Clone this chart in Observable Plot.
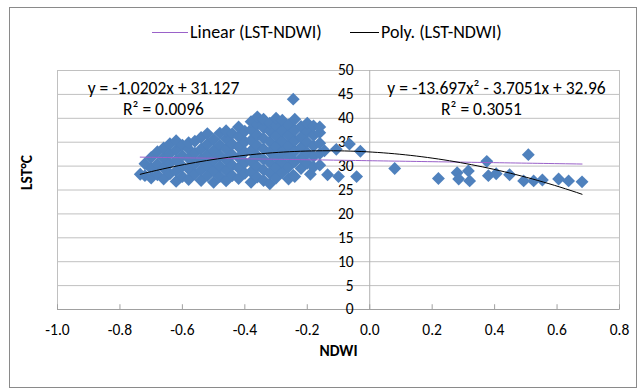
<!DOCTYPE html>
<html><head><meta charset="utf-8">
<script src="https://cdn.jsdelivr.net/npm/d3@7"></script>
<script src="https://cdn.jsdelivr.net/npm/@observablehq/plot@0.6"></script>
<style>
body{margin:0;background:#fff;font-family:Carlito,Calibri,Lato,sans-serif;}
#wrap{position:relative;width:638px;height:389px;overflow:hidden;background:#fff;}
#border{position:absolute;left:9px;top:7px;width:628px;height:381px;border:1px solid #8a8a8a;box-sizing:border-box;pointer-events:none;}
#legend{position:absolute;left:0;top:22px;width:638px;height:20px;font-size:18px;color:#000;white-space:nowrap;}
#legend .sw{display:inline-block;width:36px;height:1px;margin-right:2px;}
#legend .item{position:absolute;top:0;height:20px;display:flex;align-items:center;}
#chart{position:absolute;left:0;top:45px;}
</style></head>
<body>
<div id="wrap">
  <div id="legend"></div>
  <div id="chart"></div>
  <div id="border"></div>
</div>
<script>
// NDWI (x) vs LST °C (y) scatter
const lstNdwi = [
  [-0.735,28.3],
  [-0.72,28.0],[-0.72,30.5],
  [-0.70,27.5],[-0.70,29.5],[-0.70,31.8],
  [-0.68,28.2],[-0.68,30.4],[-0.68,33.0],
  [-0.66,27.3],[-0.66,29.6],[-0.66,31.7],[-0.66,33.8],
  [-0.64,28.4],[-0.64,30.6],[-0.64,32.6],[-0.64,34.7],
  [-0.62,26.8],[-0.62,29.0],[-0.62,31.2],[-0.62,33.4],[-0.62,35.3],
  [-0.60,27.8],[-0.60,30.0],[-0.60,32.2],[-0.60,34.4],
  [-0.58,27.2],[-0.58,29.4],[-0.58,31.6],[-0.58,33.6],[-0.58,34.9],
  [-0.56,28.3],[-0.56,30.5],[-0.56,32.7],[-0.56,35.2],
  [-0.54,27.0],[-0.54,29.2],[-0.54,31.4],[-0.54,33.6],[-0.54,36.0],
  [-0.52,28.0],[-0.52,30.2],[-0.52,32.4],[-0.52,34.6],[-0.52,36.8],
  [-0.50,26.6],[-0.50,29.0],[-0.50,31.2],[-0.50,33.3],[-0.50,35.6],
  [-0.48,27.8],[-0.48,30.0],[-0.48,32.2],[-0.48,34.4],[-0.48,36.9],
  [-0.46,26.9],[-0.46,29.1],[-0.46,31.3],[-0.46,33.5],[-0.46,35.7],[-0.46,37.4],
  [-0.44,28.0],[-0.44,30.2],[-0.44,32.4],[-0.44,34.6],[-0.44,36.8],
  [-0.42,27.4],[-0.42,29.6],[-0.42,31.8],[-0.42,34.0],[-0.42,36.2],[-0.42,38.2],
  [-0.40,28.5],[-0.40,30.7],[-0.40,32.9],[-0.40,35.1],[-0.40,37.3],
  [-0.38,26.6],[-0.38,28.8],[-0.38,31.0],[-0.38,33.2],[-0.38,35.4],[-0.38,37.6],[-0.38,39.3],
  [-0.36,27.7],[-0.36,29.9],[-0.36,32.1],[-0.36,34.3],[-0.36,36.5],[-0.36,38.7],[-0.36,40.3],
  [-0.34,27.0],[-0.34,29.2],[-0.34,31.4],[-0.34,33.6],[-0.34,35.8],[-0.34,38.0],[-0.34,39.8],
  [-0.32,26.3],[-0.32,28.5],[-0.32,30.7],[-0.32,32.9],[-0.32,35.1],[-0.32,37.3],[-0.32,39.0],
  [-0.30,27.5],[-0.30,29.7],[-0.30,31.9],[-0.30,34.1],[-0.30,36.3],[-0.30,38.5],[-0.30,40.0],
  [-0.28,28.6],[-0.28,30.8],[-0.28,33.0],[-0.28,35.2],[-0.28,37.4],[-0.28,39.6],
  [-0.26,27.3],[-0.26,29.8],[-0.26,32.0],[-0.26,34.2],[-0.26,36.4],[-0.26,38.6],
  [-0.245,44.0],[-0.245,28.1],
  [-0.24,27.8],[-0.24,30.9],[-0.24,33.1],[-0.24,35.3],[-0.24,37.5],[-0.24,39.8],
  [-0.22,29.5],[-0.22,31.7],[-0.22,33.9],[-0.22,36.1],[-0.22,38.3],
  [-0.20,30.6],[-0.20,32.8],[-0.20,35.0],[-0.20,37.2],[-0.20,39.0],
  [-0.19,28.3],
  [-0.18,29.8],[-0.18,32.0],[-0.18,34.2],[-0.18,36.4],[-0.18,38.4],
  [-0.16,30.2],[-0.16,32.6],[-0.16,34.8],[-0.16,37.0],[-0.16,38.2],
  [-0.145,33.2],[-0.135,28.2],[-0.107,33.5],[-0.10,27.8],[-0.065,34.6],
  [-0.042,27.8],[-0.03,33.1],
  [0.08,29.5],[0.22,27.4],[0.28,28.6],[0.285,27.3],[0.316,29.0],[0.32,26.9],
  [0.375,31.0],[0.38,28.0],[0.405,28.4],[0.448,28.2],[0.493,26.9],[0.508,32.4],
  [0.525,26.9],[0.553,27.1],[0.605,27.3],[0.637,26.9],[0.68,26.7]
];
const xTicks = [-1.0,-0.8,-0.6,-0.4,-0.2,0.0,0.2,0.4,0.6,0.8];
const yTicks = [0,5,10,15,20,25,30,35,40,45,50];
const linearCoef = [-1.0202, 31.127];          // slope, intercept
const polyCoef = [-13.697, -3.7051, 32.96];    // a x^2 + b x + c
const linearLabel = ["y = -1.0202x + 31.127", "R² = 0.0096"];
const polyLabel = ["y = -13.697x² - 3.7051x + 32.96", "R² = 0.3051"];
const legendNames = ["Linear (LST-NDWI)", "Poly. (LST-NDWI)"];
const legendColors = ["#9a62c9", "#000000"];
const xTitle = "NDWI";
const yTitle = "LST°C";

// trendlines evaluated from the printed equations over the data range
const [xmin, xmax] = d3.extent(lstNdwi, d => d[0]);
const xs = d3.range(81).map(i => xmin + (xmax - xmin) * i / 80);
const linearLine = xs.map(x => [x, linearCoef[0] * x + linearCoef[1]]);
const polyLine = xs.map(x => [x, polyCoef[0] * x * x + polyCoef[1] * x + polyCoef[2]]);

// legend
const lg = document.getElementById("legend");
const legendLeft = [152, 350];
legendNames.forEach((n, i) => {
  const it = document.createElement("div");
  it.className = "item";
  it.style.left = legendLeft[i] + "px";
  const sw = document.createElement("span");
  sw.className = "sw"; sw.style.background = legendColors[i];
  if (i > 0) sw.style.width = "29px";
  const t = document.createElement("span"); t.textContent = n;
  it.append(sw, t); lg.append(it);
});

const font = "Carlito, Calibri, Lato, sans-serif";
const chart = Plot.plot({
  width: 638, height: 344,
  marginTop: 25, marginBottom: 80, marginLeft: 57, marginRight: 19,
  x: {domain: [-1, 0.8]},
  y: {domain: [0, 50], axis: null},
  style: {fontFamily: font, fontSize: "15px", background: "transparent", color: "#000", overflow: "visible"},
  marks: [
    Plot.ruleY(yTicks, {stroke: "#c0c0c0"}),
    Plot.frame({stroke: "#c0c0c0"}),
    Plot.ruleX([0], {stroke: "#b0b0b0"}),
    Plot.ruleY([0], {stroke: "#a0a0a0"}),
    Plot.ruleX(xTicks, {y1: 0, y2: 1, stroke: "#a0a0a0"}),
    Plot.axisX({ticks: xTicks, tickFormat: d => d.toFixed(1), tickSize: 0, tickPadding: 14, label: null, fontSize: 15.5}),
    Plot.text(yTicks, {x: () => 0, y: d => d, text: d => String(d), textAnchor: "end", dx: -16, fontSize: 15.5}),
    Plot.dot(lstNdwi, {x: d => d[0], y: d => d[1], symbol: "diamond2", r: 5.8, fill: "#4f81bd"}),
    Plot.line(linearLine, {x: d => d[0], y: d => d[1], stroke: legendColors[0], strokeWidth: 1}),
    Plot.line(polyLine, {x: d => d[0], y: d => d[1], stroke: legendColors[1], strokeWidth: 1}),
    Plot.text([linearLabel[0]], {frameAnchor: "top-left", textAnchor: "middle", dx: 106, dy: 11, text: d => d, fontSize: 17.5}),
    Plot.text([linearLabel[1]], {frameAnchor: "top-left", textAnchor: "middle", dx: 106, dy: 32, text: d => d, fontSize: 17.5}),
    Plot.text([polyLabel[0]], {frameAnchor: "top-right", textAnchor: "middle", dx: -123, dy: 11, text: d => d, fontSize: 17.5}),
    Plot.text([polyLabel[1]], {frameAnchor: "top-right", textAnchor: "middle", dx: -138, dy: 32, text: d => d, fontSize: 17.5}),
    Plot.text([xTitle], {frameAnchor: "bottom", dy: 46, text: d => d, fontWeight: "bold", fontSize: 15.5}),
    Plot.text([yTitle], {frameAnchor: "left", dx: -30, rotate: -90, text: d => d, fontWeight: "bold", fontSize: 15.5})
  ]
});
document.getElementById("chart").append(chart);
</script>
</body></html>
